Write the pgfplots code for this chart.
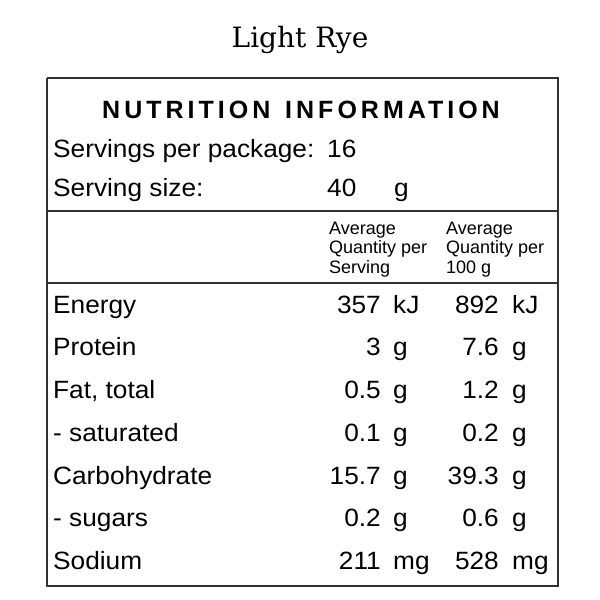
\documentclass[border=0pt]{standalone}
\usepackage{fontspec}
\setmainfont{Liberation Sans}
\newfontfamily\bodyface{Liberation Sans}[FakeStretch=1.05]
\newfontfamily\titlefont{DejaVu Serif}
\newfontfamily\headfont{Liberation Sans}[LetterSpace=16]
\usepackage{pgfplots}
\usepackage{pgfplotstable}
\pgfplotsset{compat=1.18}

% nutrient rows: label, baseline (px from top), per serving, per 100 g
\pgfplotstableread[col sep=semicolon]{
name;y;serv;u1;hund;u2
Energy;313;357;kJ;892;kJ
Protein;355;3;g;7.6;g
Fat, total;398;0.5;g;1.2;g
- saturated;441;0.1;g;0.2;g
Carbohydrate;484;15.7;g;39.3;g
- sugars;526;0.2;g;0.6;g
Sodium;569;211;mg;528;mg
}\nutrients

\newcommand{\bodyfont}{\bodyface\fontsize{25}{30}\selectfont}
\newcommand{\colfont}{\fontsize{18}{20}\selectfont}

\begin{document}
\begin{tikzpicture}
\begin{axis}[
  width=600pt, height=600pt, scale only axis,
  xmin=0, xmax=600, ymin=0, ymax=600, y dir=reverse,
  axis lines=none, clip=false,
  point meta=explicit symbolic,
  every node near coord/.append style={inner sep=0pt, font=\bodyfont},
]
% page background
\addplot[draw=none, fill=white] coordinates {(0,0)(600,0)(600,600)(0,600)(0,0)};

% frame and rules
\addplot[black!80, line width=1.8pt, line join=miter] coordinates
  {(47,78)(558,78)(558,586)(47,586)(47,78)};
\addplot[black!80, line width=1.5pt] coordinates {(47,211)(558,211)};
\addplot[black!80, line width=1.5pt] coordinates {(47,283)(558,283)};

% row labels
\addplot[draw=none, nodes near coords,
  every node near coord/.append style={anchor=base west}]
  table[x expr=53, y=y, meta=name] {\nutrients};
% per serving
\addplot[draw=none, nodes near coords,
  every node near coord/.append style={anchor=base east}]
  table[x expr=381, y=y, meta=serv] {\nutrients};
\addplot[draw=none, nodes near coords,
  every node near coord/.append style={anchor=base west}]
  table[x expr=393, y=y, meta=u1] {\nutrients};
% per 100 g
\addplot[draw=none, nodes near coords,
  every node near coord/.append style={anchor=base east}]
  table[x expr=499, y=y, meta=hund] {\nutrients};
\addplot[draw=none, nodes near coords,
  every node near coord/.append style={anchor=base west}]
  table[x expr=512, y=y, meta=u2] {\nutrients};

% titles
\node[anchor=base, inner sep=0pt, font=\titlefont\fontsize{28}{32}\selectfont]
  at (axis cs:300,47) {Light Rye};
\node[anchor=base, inner sep=0pt, font=\headfont\bfseries\fontsize{25}{30}\selectfont]
  at (axis cs:301,118) {NUTRITION\hspace{4pt} INFORMATION};

% servings
\node[anchor=base west, inner sep=0pt, font=\bodyfont] at (axis cs:53,157) {Servings per package:};
\node[anchor=base west, inner sep=0pt, font=\bodyfont] at (axis cs:327,157) {16};
\node[anchor=base west, inner sep=0pt, font=\bodyfont] at (axis cs:53,196) {Serving size:};
\node[anchor=base west, inner sep=0pt, font=\bodyfont] at (axis cs:327,196) {40};
\node[anchor=base west, inner sep=0pt, font=\bodyfont] at (axis cs:394,196) {g};

% column headings
\node[anchor=base west, inner sep=0pt, font=\colfont] at (axis cs:329,234) {Average};
\node[anchor=base west, inner sep=0pt, font=\colfont] at (axis cs:329,253) {Quantity per};
\node[anchor=base west, inner sep=0pt, font=\colfont] at (axis cs:329,273) {Serving};
\node[anchor=base west, inner sep=0pt, font=\colfont] at (axis cs:446,234) {Average};
\node[anchor=base west, inner sep=0pt, font=\colfont] at (axis cs:446,253) {Quantity per};
\node[anchor=base west, inner sep=0pt, font=\colfont] at (axis cs:446,273) {100 g};
\end{axis}
\end{tikzpicture}
\end{document}
